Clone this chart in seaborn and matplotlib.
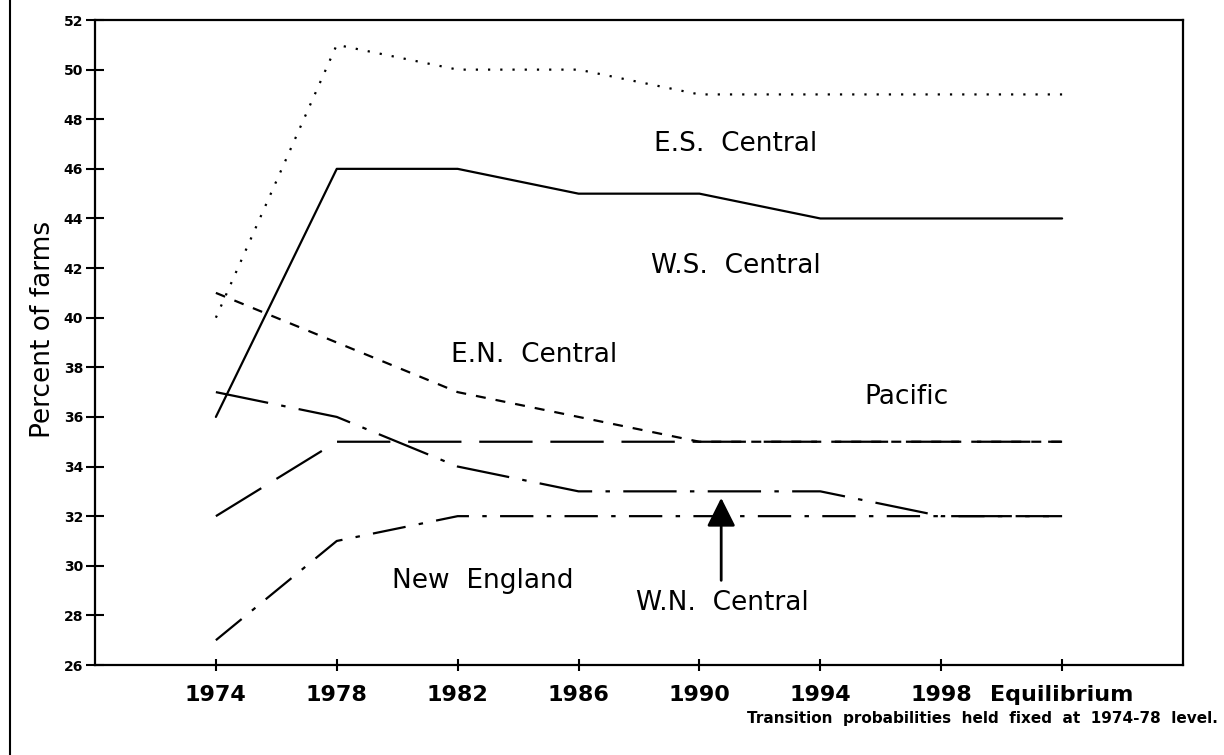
import pandas as pd
import matplotlib.pyplot as plt
import seaborn as sns
from matplotlib.lines import Line2D

# categories on the x axis
periods = ['1974', '1978', '1982', '1986', '1990', '1994', '1998', 'Equilibrium']

# percent of farms by region
es_central = [40, 51, 50, 50, 49, 49, 49, 49]
ws_central = [36, 46, 46, 45, 45, 44, 44, 44]
en_central = [41, 39, 37, 36, 35, 35, 35, 35]
pacific = [32, 35, 35, 35, 35, 35, 35, 35]
wn_central = [37, 36, 34, 33, 33, 33, 32, 32]
new_england = [27, 31, 32, 32, 32, 32, 32, 32]

y_ticks = list(range(26, 53, 2))

series = {
    'E.S. Central': es_central,
    'W.S. Central': ws_central,
    'E.N. Central': en_central,
    'Pacific': pacific,
    'W.N. Central': wn_central,
    'New England': new_england,
}

rows = []
for region, vals in series.items():
    for i, v in enumerate(vals):
        rows.append({'pos': i, 'value': v, 'region': region})
df = pd.DataFrame(rows)

sns.set_style('ticks')
plt.rcParams['font.family'] = ['DejaVu Sans']
plt.rcParams['text.color'] = 'black'
plt.rcParams['xtick.color'] = 'black'
plt.rcParams['ytick.color'] = 'black'
plt.rcParams['axes.labelcolor'] = 'black'

fig = plt.figure(figsize=(12.24, 7.55), dpi=100)
ax = fig.add_axes([0.0776, 0.1192, 0.8889, 0.8543])

dash_styles = {
    'E.S. Central': (1, 4.5),
    'W.S. Central': '',
    'E.N. Central': (4.5, 4.5),
    'Pacific': (24, 8),
    'W.N. Central': (24, 6, 2, 6),
    'New England': (15, 6, 2, 6),
}

sns.lineplot(data=df, x='pos', y='value', style='region', dashes=dash_styles,
             color='black', linewidth=1.6, legend=False, ax=ax)

ax.set_xlim(-1, 8)
ax.set_ylim(26, 52)
ax.set_xticks(range(len(periods)))
ax.set_xticklabels(periods, fontsize=16, fontweight='bold')
ax.set_yticks(y_ticks)
ax.set_yticklabels([str(t) for t in y_ticks], fontsize=10, fontweight='bold')
ax.tick_params(axis='y', direction='inout', length=13, width=1.5, pad=2)
ax.tick_params(axis='x', direction='inout', length=9, width=1.5, pad=10)
ax.set_xlabel('')
ax.set_ylabel('Percent of farms', fontsize=19,
              family=['Liberation Sans Narrow', 'DejaVu Sans'])
ax.yaxis.set_label_coords(-0.036, 0.52)
for s in ax.spines.values():
    s.set_linewidth(1.6)
    s.set_color('black')

# region labels
txt = dict(fontsize=19, ha='center', va='center', color='black')
ax.text(4.3, 47.0, 'E.S.  Central', **txt)
ax.text(4.3, 42.1, 'W.S.  Central', **txt)
ax.text(2.63, 38.5, 'E.N.  Central', **txt)
ax.text(5.71, 36.8, 'Pacific', **txt)
ax.text(2.21, 29.4, 'New  England', **txt)
ax.text(4.19, 28.5, 'W.N.  Central', **txt)

ax.annotate('', xy=(4.18, 32.85), xytext=(4.18, 29.3),
            arrowprops=dict(arrowstyle='-|>,head_length=0.7,head_width=0.35',
                            lw=2, color='black', mutation_scale=25))

fig.text(0.995, 0.049, 'Transition  probabilities  held  fixed  at  1974-78  level.',
         ha='right', va='center', fontsize=11, fontweight='bold')

# scanned page edge on the left
fig.add_artist(Line2D([0.008, 0.008], [0.0, 1.0], transform=fig.transFigure,
                      color='black', lw=1.5))

fig.savefig('out.png', dpi=100)
